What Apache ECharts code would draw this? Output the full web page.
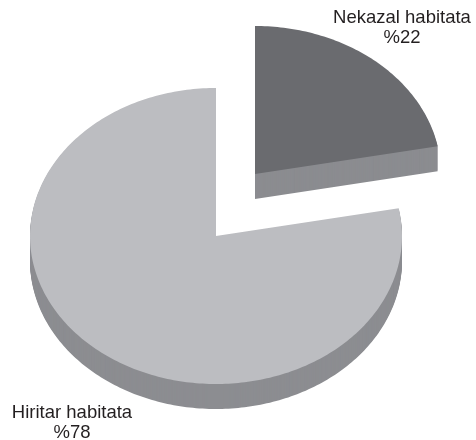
<!DOCTYPE html>
<html>
<head>
<meta charset="utf-8">
<script src="https://cdn.jsdelivr.net/npm/echarts@6/dist/echarts.min.js"></script>
<style>
html,body{margin:0;padding:0;background:#fff;}
#chart{width:476px;height:440px;}
</style>
</head>
<body>
<div id="chart"></div>
<script>
// ---- data ----
const categories = ['Nekazal habitata', 'Hiritar habitata'];
const values = [22, 78];

// ---- layout / style (not data) ----
const layout = {
  cx: 216, cy: 236, rx: 186, ry: 148, depth: 25,
  explode: [[39, -62], [0, 0]],
  labelPos: [[402, 28], [72, 423]]
};
const topColors = ['#6a6b6f', '#bcbdc1'];
const sideColors = ['#8b8c90', '#8c8d91'];

const total = values.reduce((a, b) => a + b, 0);
const starts = [];
let acc = 0;
values.forEach(v => { starts.push(acc); acc += v; });

function slicePoints(cx, cy, a0, a1, dy) {
  const pts = [[cx, cy + dy]];
  const n = Math.max(2, Math.ceil((a1 - a0) * 180 / Math.PI));
  for (let i = 0; i <= n; i++) {
    const t = a0 + (a1 - a0) * i / n;
    pts.push([cx + layout.rx * Math.sin(t), cy - layout.ry * Math.cos(t) + dy]);
  }
  return pts;
}

const chart = echarts.init(document.getElementById('chart'), null, {renderer: 'canvas'});
chart.setOption({
  animation: false,
  series: [{
    type: 'custom',
    coordinateSystem: 'none',
    data: values.map((v, i) => ({name: categories[i], value: v})),
    renderItem: function (params, api) {
      const i = params.dataIndex;
      const a0 = starts[i] / total * Math.PI * 2;
      const a1 = (starts[i] + values[i]) / total * Math.PI * 2;
      const cx = layout.cx + layout.explode[i][0];
      const cy = layout.cy + layout.explode[i][1];
      const children = [];
      for (let k = layout.depth; k >= 1; k--) {
        children.push({
          type: 'polygon', z2: 1,
          shape: {points: slicePoints(cx, cy, a0, a1, k)},
          style: {fill: sideColors[i]}
        });
      }
      children.push({
        type: 'polygon', z2: 2,
        shape: {points: slicePoints(cx, cy, a0, a1, 0)},
        style: {fill: topColors[i]}
      });
      const pct = Math.round(values[i] / total * 100);
      children.push({
        type: 'text', z2: 3,
        style: {
          text: categories[i] + '\n%' + pct,
          x: layout.labelPos[i][0], y: layout.labelPos[i][1],
          align: 'center', verticalAlign: 'middle',
          fill: '#231f20', fontSize: 18.5, lineHeight: 20,
          fontFamily: 'Liberation Sans'
        }
      });
      return {type: 'group', children: children};
    }
  }]
});
</script>
</body>
</html>
